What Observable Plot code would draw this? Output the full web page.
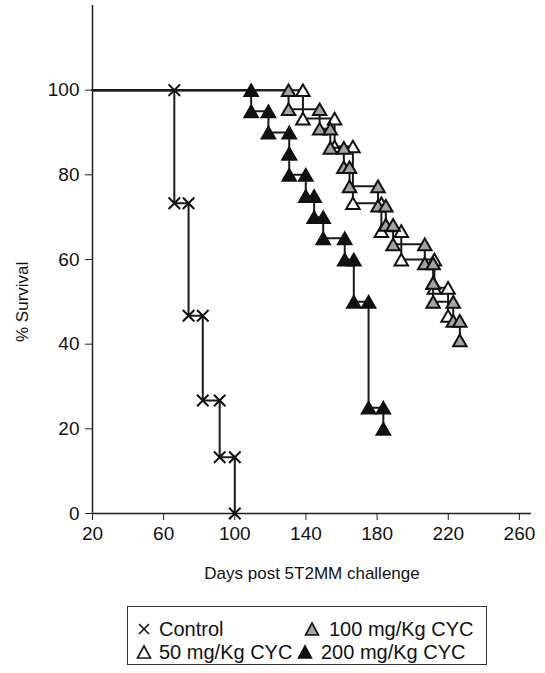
<!DOCTYPE html>
<html><head><meta charset="utf-8">
<script src="https://cdn.jsdelivr.net/npm/d3@7"></script>
<script src="https://cdn.jsdelivr.net/npm/@observablehq/plot@0.6"></script>
<style>
body{margin:0;background:#fff;font-family:"Liberation Sans",Arial,sans-serif;}
#wrap{position:relative;width:545px;height:673px;overflow:hidden;}
#legend{position:absolute;left:127px;top:606px;width:360px;height:59px;border:1.5px solid #333;box-sizing:border-box;font-size:20px;color:#111;}
.item{position:absolute;white-space:nowrap;line-height:22px;}
.item svg{position:absolute;left:0;top:2px;}
.item span{position:absolute;top:0;}
</style></head><body><div id="wrap"><div id="chart"></div><div id="legend"></div></div>
<script>
// ---- data ----
const xTicks = [20, 60, 100, 140, 180, 220, 260];
const yTicks = [0, 20, 40, 60, 80, 100];
const seriesNames = ["Control", "50 mg/Kg CYC", "100 mg/Kg CYC", "200 mg/Kg CYC"];
const controlDays = [66, 74, 82, 91.5, 100];
const controlSurv = [73.3, 46.7, 26.7, 13.3, 0];
const cyc50Days = [138.3, 156.1, 166.4, 182.4, 193.6, 212.2, 219.9];
const cyc50Surv = [93.3, 86.7, 73.3, 66.7, 60, 53.3, 46.7];
const cyc100Days = [130.2, 147.7, 153.7, 161.3, 164.5, 180.5, 184.9, 189, 206.8, 211.5, 211.5, 222.8, 226.5];
const cyc100Surv = [95.5, 90.9, 86.4, 81.8, 77.3, 72.7, 68.2, 63.6, 59.1, 54.5, 50, 45.5, 40.9];
const cyc200Days = [109.2, 118.9, 130.6, 130.6, 139.9, 144.6, 149.7, 161.8, 166.9, 175.2, 183.5];
const cyc200Surv = [95, 90, 85, 80, 75, 70, 65, 60, 50, 25, 20];

const styles = [
  {symbol: "times", fill: "none", r: 5.3, dy: 0},
  {symbol: "triangle", fill: "white", r: 5, dy: 2},
  {symbol: "triangle", fill: "#a3a3a3", r: 5, dy: 2},
  {symbol: "triangle", fill: "#111", r: 5, dy: 2}
];
const dayLists = [controlDays, cyc50Days, cyc100Days, cyc200Days];
const survLists = [controlSurv, cyc50Surv, cyc100Surv, cyc200Surv];

function steps(days, surv) {
  const pts = [{day: 20, s: 100, start: true}];
  let prev = 100;
  days.forEach((d, i) => {
    pts.push({day: d, s: prev});
    pts.push({day: d, s: surv[i]});
    prev = surv[i];
  });
  return pts;
}

const marks = [
  Plot.ruleX([20], {stroke: "#222", strokeWidth: 1.5}),
  Plot.ruleY([0], {stroke: "#222", strokeWidth: 1.5}),
  Plot.axisY({ticks: yTicks, tickSize: 7, tickPadding: 6, label: null, fontSize: 19, stroke: "#222"}),
  Plot.axisX({ticks: xTicks, tickSize: 7, tickPadding: 6, label: null, fontSize: 19, stroke: "#222"}),
  Plot.text([{y: 50}], {y: "y", frameAnchor: "left", textAnchor: "middle", rotate: -90, dx: -70, text: () => "% Survival", fontSize: 17, fill: "#111"}),
  Plot.text(["Days post 5T2MM challenge"], {frameAnchor: "bottom", dy: 65, fontSize: 17, fill: "#111"})
];
dayLists.forEach((days, k) => {
  const pts = steps(days, survLists[k]);
  const st = styles[k];
  marks.push(Plot.line(pts, {x: "day", y: "s", stroke: "#1a1a1a", strokeWidth: 2}));
  marks.push(Plot.dot(pts.filter(p => !p.start), {x: "day", y: "s", symbol: () => st.symbol, r: st.r, dy: st.dy,
    fill: st.fill, stroke: "#111", strokeWidth: 2}));
});

const chart = Plot.plot({
  width: 545, height: 590,
  marginLeft: 92, marginRight: 14, marginTop: 5, marginBottom: 77,
  x: {domain: [20, 266.8]},
  y: {domain: [0, 120]},
  symbol: {type: "identity"},
  style: {fontFamily: "Liberation Sans, Arial, sans-serif", fontSize: "19px", color: "#111", background: "white"},
  marks
});
document.getElementById("chart").appendChild(chart);

// legend
const legend = document.getElementById("legend");
const legPos = {0: [7, 22, 31], 2: [175, 22, 201], 1: [7, 45, 31], 3: [168, 45, 193]};
[0, 1, 2, 3].forEach(k => {
  const st = styles[k];
  const [lx, ly, tx] = legPos[k];
  const div = document.createElement("div");
  div.className = "item";
  div.style.left = lx + "px"; div.style.top = (ly - 11) + "px";
  const s = d3.create("svg").attr("width", 18).attr("height", 18);
  if (st.symbol === "times") {
    s.append("path").attr("d", "M4,4L14,14M14,4L4,14").attr("stroke", "#111").attr("stroke-width", 1.6);
  } else {
    s.append("path").attr("d", "M9,3L15.5,15L2.5,15Z").attr("fill", st.fill).attr("stroke", "#111").attr("stroke-width", 1.6);
  }
  div.appendChild(s.node());
  const sp = document.createElement("span");
  sp.style.left = (tx - lx) + "px";
  sp.textContent = seriesNames[k];
  div.appendChild(sp);
  legend.appendChild(div);
});
</script></body></html>
